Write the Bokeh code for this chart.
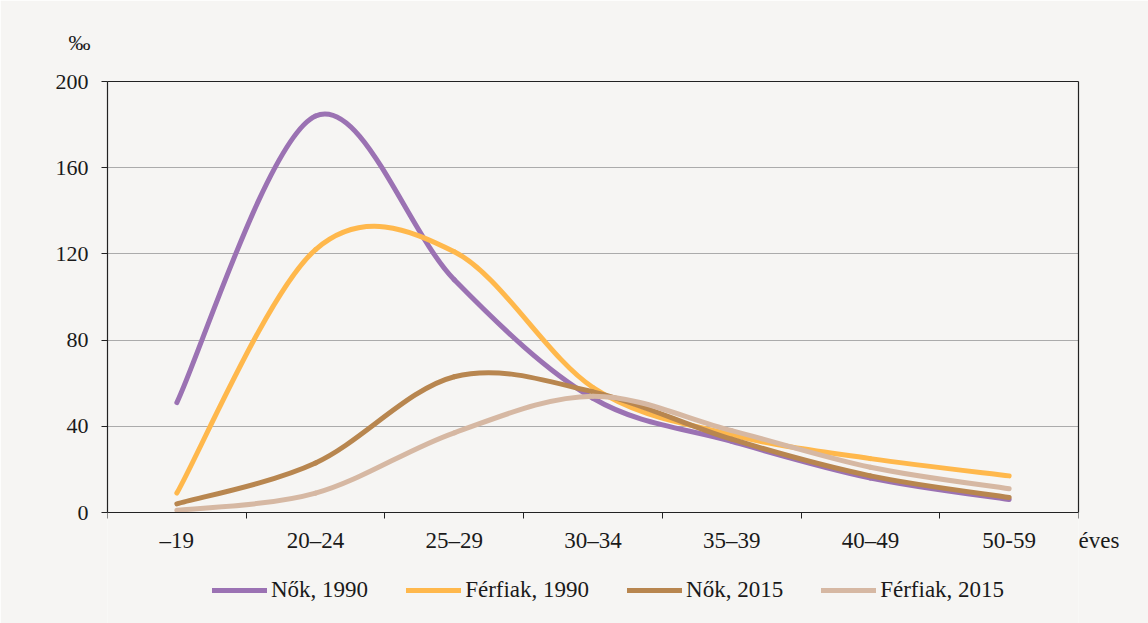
from bokeh.plotting import figure
from bokeh.models import (Range1d, FixedTicker, Legend, LegendItem, Title,
                          ColumnDataSource, LinearAxis)
from bokeh.embed import file_html
from bokeh.resources import INLINE

# ---- data ----
categories = ["–19", "20–24", "25–29", "30–34", "35–39", "40–49", "50-59"]
nok_1990 = [51, 184, 108, 53, 33, 16, 6]
ferfiak_1990 = [9, 122, 121, 58, 36, 25, 17]
nok_2015 = [4, 23, 63, 56, 34, 17, 7]
ferfiak_2015 = [1, 9, 37, 54, 38, 21, 11]
y_ticks = [0, 40, 80, 120, 160, 200]
x_unit_label = "éves"
y_unit_label = "‰"

series = [
    ("Nők, 1990", nok_1990, "#9b72b3"),
    ("Férfiak, 1990", ferfiak_1990, "#ffb84c"),
    ("Nők, 2015", nok_2015, "#b8864f"),
    ("Férfiak, 2015", ferfiak_2015, "#d6b8a3"),
]

BG = "#f6f5f3"
FONT = "Liberation Serif"
TXT = "#1a1a1a"
AX = "#222222"

# layout (pixels): plot box 971 x 431, the frame extends below it to hold
# the axis labels and the legend
BOX_W, BOX_H, BELOW = 971, 431, 111
LABEL_DROP = 28          # px from the x axis down to the centre of the labels
y_max = y_ticks[-1]
y_min = -y_max * BELOW / BOX_H
unit_label_y = -y_max * LABEL_DROP / BOX_H
n_cat = len(categories)

p = figure(frame_width=BOX_W, frame_height=BOX_H + BELOW, output_backend="svg",
           toolbar_location=None,
           x_range=Range1d(-0.5, n_cat - 0.5), y_range=Range1d(y_min, y_max),
           min_border_left=107, min_border_right=70, min_border_top=81,
           min_border_bottom=0)
p.background_fill_color = BG
p.border_fill_color = BG
p.outline_line_color = None

# x axis at y = 0: labels at category centres, tick marks at boundaries
xs = list(range(n_cat))
xax = p.xaxis[0]
xax.fixed_location = 0
xax.ticker = FixedTicker(ticks=xs,
                         minor_ticks=[i - 0.5 for i in range(n_cat + 1)])
xax.major_label_overrides = {i: c for i, c in enumerate(categories)}
xax.major_tick_out = 0
xax.major_tick_in = 0
xax.minor_tick_out = 6
xax.minor_tick_in = 0
xax.minor_tick_line_color = AX
xax.major_label_standoff = 9
xax.major_label_text_font_size = "23px"

yax = p.yaxis[0]
yax.bounds = (0, y_max)
yax.ticker = FixedTicker(ticks=y_ticks)
yax.minor_tick_line_color = None
yax.major_tick_out = 6
yax.major_tick_in = 0
yax.major_label_standoff = 13
yax.major_label_text_font_size = "22px"
for ax in (xax, yax):
    ax.axis_line_color = AX
    ax.axis_line_width = 1.2
    ax.major_tick_line_color = AX
    ax.major_label_text_font = FONT
    ax.major_label_text_color = TXT

# top and right edges of the plot box
top_ax = LinearAxis(ticker=FixedTicker(ticks=[]), major_tick_out=0,
                    major_tick_in=0, minor_tick_out=0, minor_tick_in=0,
                    major_label_standoff=0, major_label_text_font_size="0px",
                    axis_line_color=AX, axis_line_width=1.2)
right_ax = LinearAxis(ticker=FixedTicker(ticks=[]), bounds=(0, y_max),
                      major_tick_out=0, major_tick_in=0, minor_tick_out=0,
                      minor_tick_in=0, major_label_standoff=0,
                      major_label_text_font_size="0px",
                      axis_line_color=AX, axis_line_width=1.2)
p.add_layout(top_ax, "above")
p.add_layout(right_ax, "right")

# unit label "éves" at the right end of the x axis (label of a right axis)
unit_ax = LinearAxis(ticker=FixedTicker(ticks=[unit_label_y]),
                     major_label_overrides={unit_label_y: x_unit_label},
                     axis_line_color=None, major_tick_line_color=None,
                     minor_tick_line_color=None, major_tick_out=0,
                     major_tick_in=0, minor_tick_out=0, minor_tick_in=0,
                     major_label_standoff=0, major_label_text_font=FONT,
                     major_label_text_font_size="23px",
                     major_label_text_color=TXT)
p.add_layout(unit_ax, "right")

p.xgrid.grid_line_color = None
p.ygrid.ticker = FixedTicker(ticks=y_ticks[1:-1])
p.ygrid.grid_line_color = "#ababab"
p.ygrid.grid_line_width = 1

# smoothed lines (Bezier segments through the data points)
items = []
for name, vals, col in series:
    n = len(vals)
    x0, y0, x1, y1, cx0, cy0, cx1, cy1 = [], [], [], [], [], [], [], []
    for i in range(n - 1):
        ip = max(i - 1, 0)
        inn = min(i + 2, n - 1)
        x0.append(xs[i]); y0.append(vals[i])
        x1.append(xs[i + 1]); y1.append(vals[i + 1])
        cx0.append(xs[i] + (xs[i + 1] - xs[ip]) / 6)
        cy0.append(vals[i] + (vals[i + 1] - vals[ip]) / 6)
        cx1.append(xs[i + 1] - (xs[inn] - xs[i]) / 6)
        cy1.append(vals[i + 1] - (vals[inn] - vals[i]) / 6)
    src = ColumnDataSource(dict(x0=x0, y0=y0, x1=x1, y1=y1,
                                cx0=cx0, cy0=cy0, cx1=cx1, cy1=cy1))
    r = p.bezier(x0="x0", y0="y0", x1="x1", y1="y1", cx0="cx0", cy0="cy0",
                 cx1="cx1", cy1="cy1", source=src, line_color=col,
                 line_width=5, line_cap="round")
    items.append(LegendItem(label=name, renderers=[r]))

legend = Legend(items=items, orientation="horizontal", location=(105, 20),
                background_fill_alpha=0, border_line_color=None, padding=0,
                margin=0, glyph_width=55, glyph_height=20, label_standoff=4,
                spacing=38, label_text_font=FONT, label_text_font_size="23px",
                label_text_color=TXT)
p.add_layout(legend)

# unit label "‰" above the y axis
p.add_layout(Title(text=y_unit_label, align="left", offset=-39, standoff=54,
                   text_font=FONT, text_font_size="22px",
                   text_font_style="normal", text_color=TXT), "above")

html = file_html(p, INLINE)
open("out.html", "w").write(html)
